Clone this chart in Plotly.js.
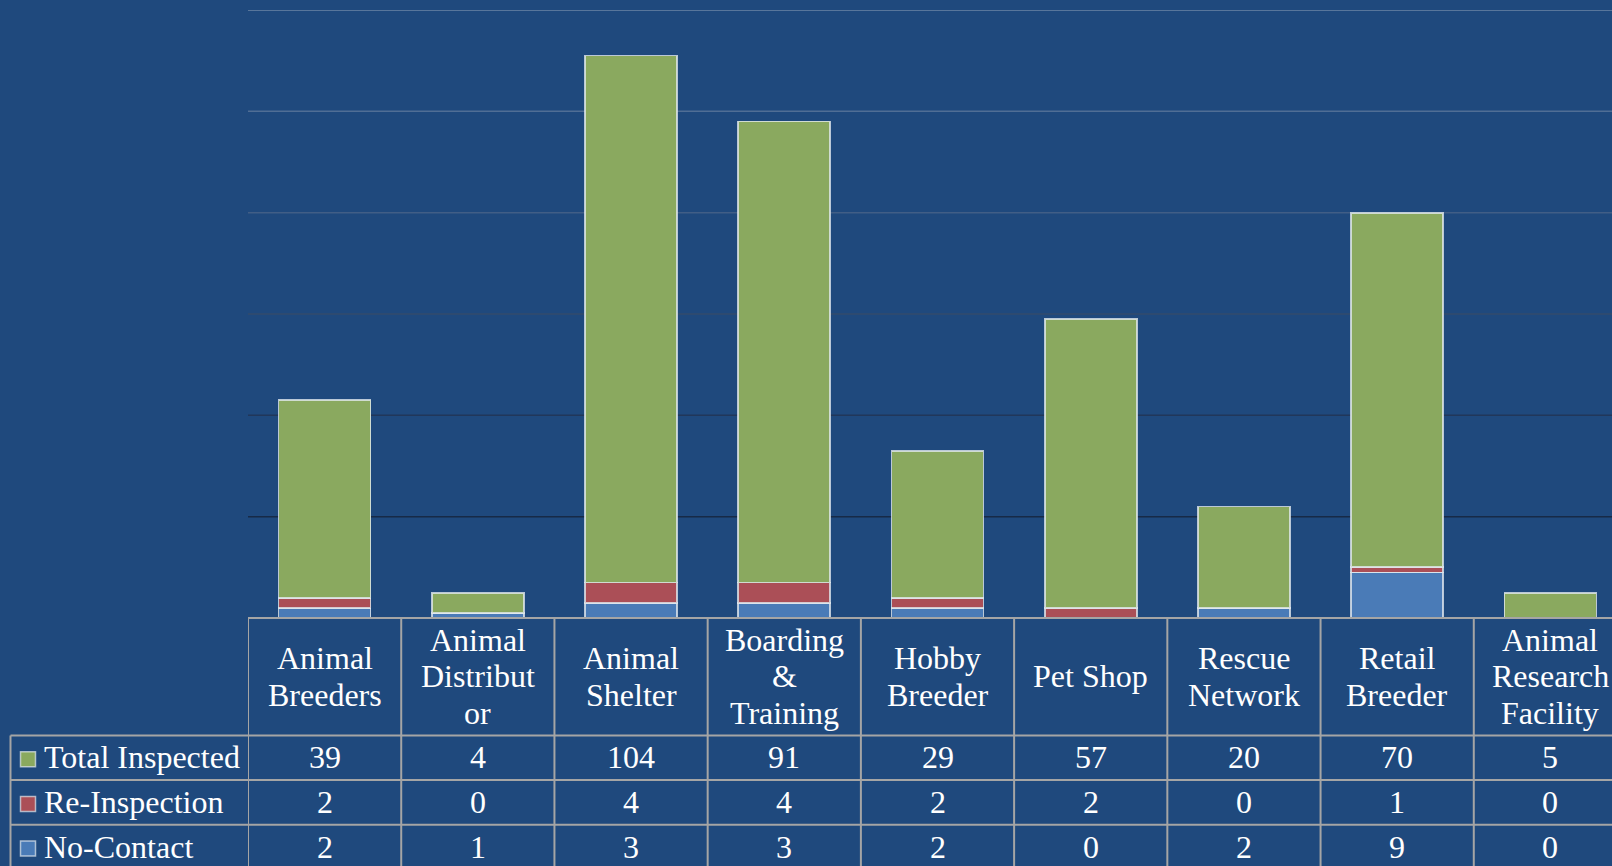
<!DOCTYPE html>
<html>
<head>
<meta charset="utf-8">
<script src="https://cdn.plot.ly/plotly-3.0.1.min.js"></script>
<style>
html,body{margin:0;padding:0;background:#1F497D;overflow:hidden;width:1612px;height:866px;}
#chart{width:1630px;height:866px;}
</style>
</head>
<body>
<div id="chart"></div>
<script>
// ---- Data ----
var categories = ["Animal<br>Breeders", "Animal<br>Distribut<br>or", "Animal<br>Shelter", "Boarding<br>&<br>Training", "Hobby<br>Breeder", "Pet Shop", "Rescue<br>Network", "Retail<br>Breeder", "Animal<br>Research<br>Facility"];
var totalInspected = [39, 4, 104, 91, 29, 57, 20, 70, 5];
var reInspection   = [2, 0, 4, 4, 2, 2, 0, 1, 0];
var noContact      = [2, 1, 3, 3, 2, 0, 2, 9, 0];
var seriesNames = ["Total Inspected", "Re-Inspection", "No-Contact"];
var gridValues = [20, 40, 60, 80, 100, 120];

// ---- Styling ----
var BG = "#1F497D";
var colors = {"Total Inspected": "#8AA95F", "Re-Inspection": "#AB4F57", "No-Contact": "#4A7BB7"};
var gridColors = {20: "#172A47", 40: "#21375A", 60: "#334B6C", 80: "#415E86", 100: "#506E95", 120: "#6C86A6"};
var FONT = "Liberation Serif, Times New Roman, serif";
var FS = 32;

var W = 1630, H = 866;
var mL = 248, mR = 3, mT = 10, mB = 248;
var plotW = W - mL - mR, plotH = H - mT - mB;
var baseY = mT + plotH; // pixel y of 0
function py(p) { return (baseY - p) / plotH; }   // pixel y -> paper y
function px(p) { return (p - mL) / plotW; }      // pixel x -> paper x

var idx = categories.map(function (_, i) { return i; });
var barLine = {color: "rgba(225,232,238,0.8)", width: 1.7};

var traces = [
  {type: "bar", name: "No-Contact", x: idx, y: noContact, marker: {color: colors["No-Contact"], line: barLine}},
  {type: "bar", name: "Re-Inspection", x: idx, y: reInspection, marker: {color: colors["Re-Inspection"], line: barLine}},
  {type: "bar", name: "Total Inspected", x: idx, y: totalInspected, marker: {color: colors["Total Inspected"], line: barLine}}
];
traces.forEach(function (t) { t.hoverinfo = "skip"; });

var shapes = [];
var annotations = [];
var LINE = "#A5A5A5", LW = 2;

// gridlines
gridValues.forEach(function (v) {
  shapes.push({type: "line", xref: "paper", yref: "y", x0: 0, x1: 1, y0: v, y1: v, layer: "below",
    line: {color: gridColors[v], width: 1.5}});
});

// table geometry (pixels)
var headTop = baseY, headBot = 735.5, rowH = 44.6;
var rowsY = [headBot, headBot + rowH, headBot + 2 * rowH, headBot + 3 * rowH + 3];
var legLeft = 10.5;
var n = categories.length;

// vertical lines of category columns
for (var k = 0; k <= n; k++) {
  shapes.push({type: "line", xref: "x", yref: "paper", x0: k - 0.5, x1: k - 0.5, y0: py(headTop), y1: py(rowsY[3]), line: {color: LINE, width: LW}});
}
// legend column left border
shapes.push({type: "line", xref: "paper", yref: "paper", x0: px(legLeft), x1: px(legLeft), y0: py(rowsY[0]), y1: py(rowsY[3]), line: {color: LINE, width: LW}});
// table top line
shapes.push({type: "line", xref: "x", yref: "paper", x0: -0.5, x1: n - 0.5, y0: py(headTop), y1: py(headTop), line: {color: LINE, width: LW}});
// row lines
rowsY.forEach(function (ry) {
  shapes.push({type: "line", xref: "paper", yref: "paper", x0: px(legLeft), x1: 1, y0: py(ry), y1: py(ry), line: {color: LINE, width: LW}});
});

// header labels (one annotation per line)
var headCenter = (headTop + headBot) / 2 - 0.5;
var lineStep = 36.5;
categories.forEach(function (c, i) {
  var lines = c.split("<br>");
  lines.forEach(function (ln, j) {
    var cy = headCenter + (j - (lines.length - 1) / 2) * lineStep;
    annotations.push({xref: "x", yref: "paper", x: i, y: py(cy), text: ln, showarrow: false,
      xanchor: "center", yanchor: "middle", font: {family: FONT, size: FS, color: "#FFFFFF"}});
  });
});

// data rows
var rowData = [totalInspected, reInspection, noContact];
rowData.forEach(function (arr, r) {
  var cy = rowsY[r] + rowH / 2 - 0.5;
  arr.forEach(function (v, i) {
    annotations.push({xref: "x", yref: "paper", x: i, y: py(cy), text: String(v), showarrow: false,
      xanchor: "center", yanchor: "middle", font: {family: FONT, size: FS, color: "#FFFFFF"}});
  });
  var name = seriesNames[r];
  var sq = 15;
  shapes.push({type: "rect", xref: "paper", yref: "paper", x0: px(20.5), x1: px(20.5 + sq),
    y0: py(cy - sq / 2 + 2), y1: py(cy + sq / 2 + 2), fillcolor: colors[name],
    line: {color: "rgba(225,232,238,0.7)", width: 1.5}});
  annotations.push({xref: "paper", yref: "paper", x: px(42), y: py(cy), text: name, showarrow: false,
    xanchor: "left", yanchor: "middle", font: {family: FONT, size: FS, color: "#FFFFFF"}});
});

var layout = {
  width: W, height: H,
  margin: {l: mL, r: mR, t: mT, b: mB, pad: 0},
  paper_bgcolor: BG, plot_bgcolor: BG,
  barmode: "stack", bargap: 0.4,
  showlegend: false,
  xaxis: {range: [-0.5, n - 0.5], showticklabels: false, showgrid: false, zeroline: false, showline: false, ticks: ""},
  yaxis: {range: [0, 120], showticklabels: false, showgrid: false, zeroline: false, showline: false, ticks: ""},
  shapes: shapes,
  annotations: annotations
};

Plotly.newPlot("chart", traces, layout, {displayModeBar: false, staticPlot: true});
</script>
</body>
</html>
